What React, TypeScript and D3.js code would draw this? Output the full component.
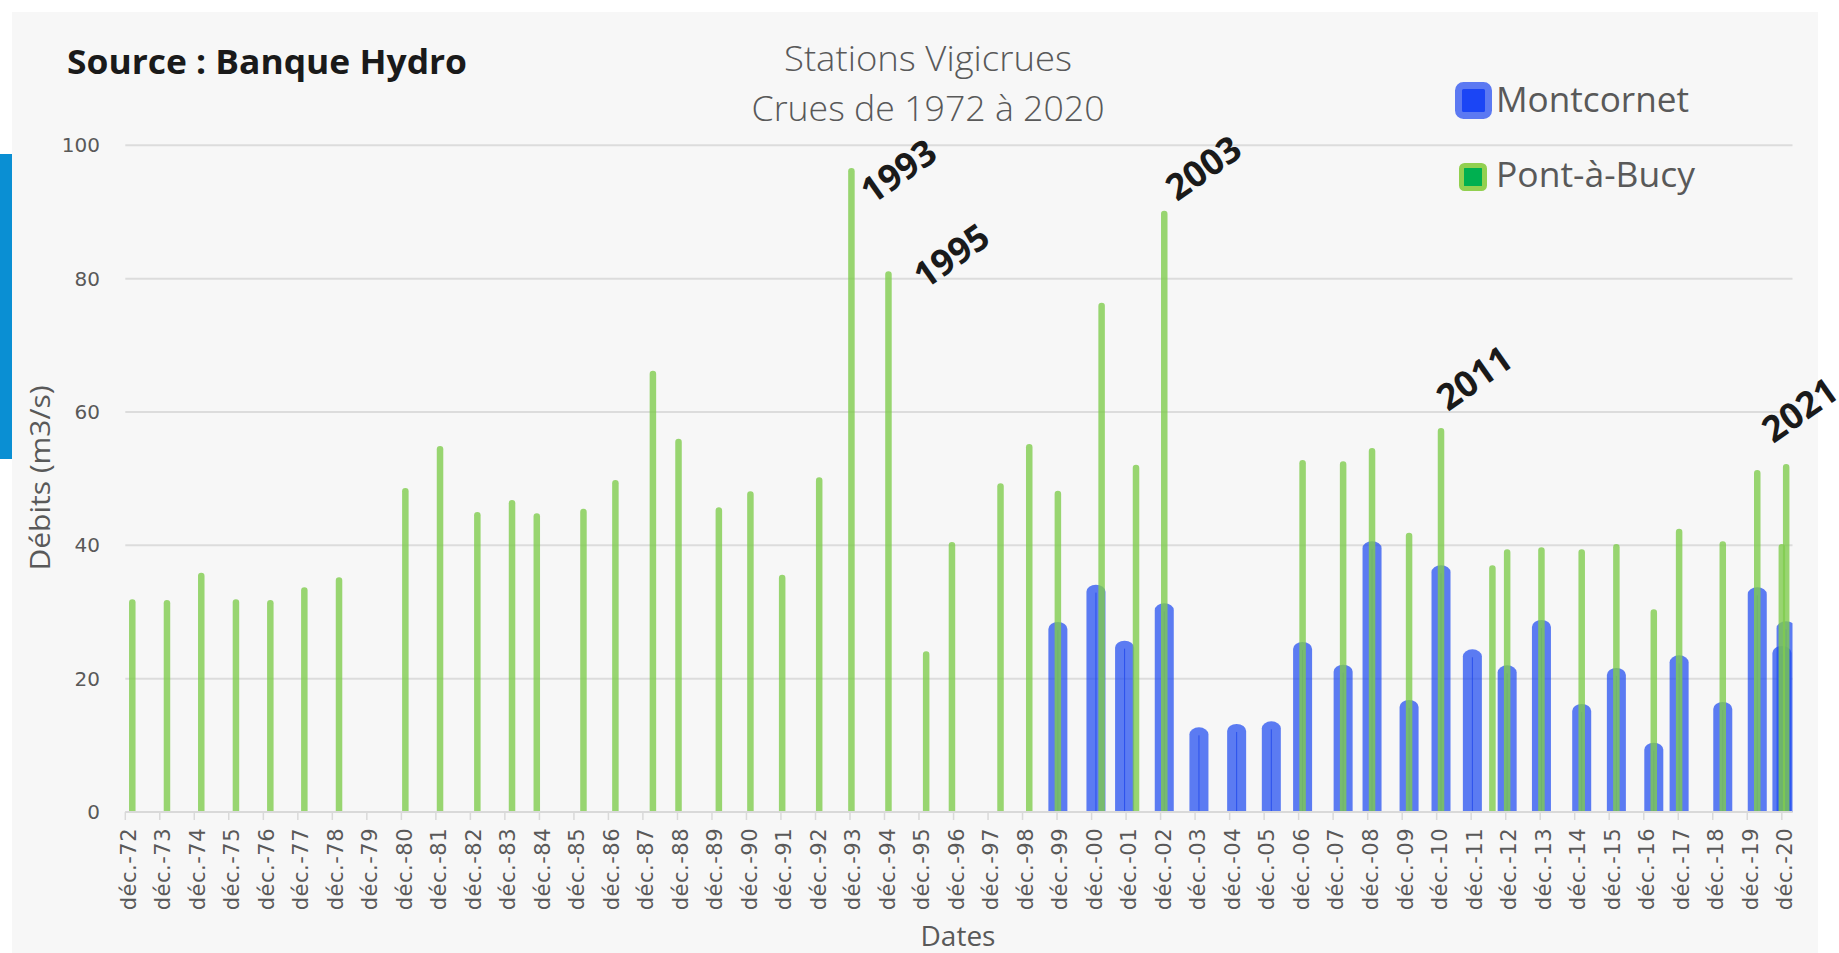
import * as d3 from "d3";

// Montcornet (blue) — date of flood peak, discharge m3/s
const montcornetDates = [
  "1999-12-10", "2001-01-16", "2001-11-15", "2003-01-09", "2004-01-11", "2005-02-13",
  "2006-02-15", "2007-01-12", "2008-03-16", "2009-01-16", "2010-02-12", "2011-01-16",
  "2011-12-14", "2012-12-16", "2013-12-14", "2015-02-13", "2016-02-15", "2017-03-17",
  "2017-12-10", "2019-03-17", "2020-03-16", "2020-12-02", "2021-01-15",
];
const montcornetValues = [
  28.5, 34.1, 25.7, 31.3, 12.7, 13.2,
  13.6, 25.5, 22.1, 40.6, 16.8, 37.0,
  24.4, 22.0, 28.8, 16.2, 21.6, 10.4,
  23.5, 16.5, 33.7, 24.9, 28.6,
];

// Pont-à-Bucy (green)
const pontDates = [
  "1973-02-13", "1974-02-15", "1975-02-13", "1976-02-15", "1977-02-13", "1978-02-08",
  "1979-02-10", "1981-01-12", "1982-01-14", "1983-02-13", "1984-02-15", "1984-11-03",
  "1986-03-12", "1987-02-13", "1988-03-16", "1988-12-12", "1990-02-12", "1991-01-12",
  "1991-12-14", "1993-01-09", "1993-12-16", "1995-01-12", "1996-02-15", "1996-11-14",
  "1998-04-12", "1999-02-10", "1999-12-10", "2001-03-17", "2002-03-16", "2003-01-09",
  "2007-01-12", "2008-03-16", "2009-01-16", "2010-02-12", "2011-01-16", "2012-07-13",
  "2012-12-16", "2013-12-14", "2015-02-13", "2016-02-15", "2017-03-17", "2017-12-10",
  "2019-03-17", "2020-03-16", "2020-12-01", "2021-01-16",
];
const pontValues = [
  31.9, 31.8, 35.9, 31.9, 31.8, 33.7,
  35.2, 48.6, 54.9, 45.0, 46.8, 44.8,
  45.5, 49.8, 66.2, 56.0, 45.7, 48.1,
  35.6, 50.2, 96.6, 81.1, 24.1, 40.5,
  49.3, 55.2, 48.2, 76.4, 52.1, 90.2,
  52.8, 52.6, 54.6, 41.9, 57.6, 37.0,
  39.4, 39.7, 39.4, 40.2, 30.4, 42.5,
  40.6, 51.3, 40.2, 52.2,
];

// annotation labels anchored in data space (baseline start)
const noteLabels = ["1993", "1995", "2003", "2011", "2021"];
const noteDates = ["1994-07-23", "1996-02-02", "2003-05-23", "2011-03-30", "2020-09-02"];
const noteValues = [91.0, 78.3, 91.5, 60.0, 55.2];

const tickYears = d3.range(1972, 2021);
const yTicks = [0, 20, 40, 60, 80, 100];

const parse = d3.utcParse("%Y-%m-%d");

const W = 1839, H = 953;
const plot = { left: 125.3, right: 1792.5, top: 145.3, bottom: 812 };
const grey = "#595959";
const sans = "'Open Sans', 'Noto Sans', sans-serif";

function dome(cx: number, w: number, yTop: number, yBase: number, ry: number) {
  const l = cx - w / 2, r = cx + w / 2;
  return `M${l},${yBase}L${l},${yTop + ry}A${w / 2},${ry} 0 0 1 ${r},${yTop + ry}L${r},${yBase}Z`;
}

export default function App() {
  const x = d3.scaleUtc()
    .domain([new Date(Date.UTC(1972, 11, 1)), new Date(Date.UTC(2021, 2, 24))])
    .range([plot.left, plot.right]);
  const y = d3.scaleLinear().domain([0, 100]).range([plot.bottom, plot.top]);

  const blue = montcornetDates.map((d, i) => ({ date: parse(d)!, value: montcornetValues[i] }));
  const green = pontDates.map((d, i) => ({ date: parse(d)!, value: pontValues[i] }));
  const notes = noteLabels.map((t, i) => ({ text: t, date: parse(noteDates[i])!, value: noteValues[i] }));

  return (
    <svg width={W} height={H} style={{ position: "absolute", left: 0, top: 0, background: "#fff" }}>
      <defs>
        <clipPath id="plotClip">
          <rect x={plot.left - 20} y={0} width={plot.right - plot.left + 20} height={plot.bottom} />
        </clipPath>
      </defs>
      <rect x={12} y={12} width={1806} height={H - 12} fill="#F7F7F7" />
      <rect x={0} y={154} width={12} height={305} fill="#0A8FD3" />

      {/* grid */}
      {yTicks.map(t => (
        <g key={t}>
          <line x1={plot.left} x2={plot.right} y1={y(t)} y2={y(t)} stroke="#DCDCDC" strokeWidth={2} />
          <text x={100} y={y(t)} dy="0.35em" textAnchor="end" fontFamily="'DejaVu Sans', sans-serif"
            fontSize={20} fill={grey}>{t}</text>
        </g>
      ))}

      {/* x ticks */}
      {tickYears.map(yr => {
        const tx = x(new Date(Date.UTC(yr, 11, 1)));
        return (
          <g key={yr}>
            <line x1={tx} x2={tx} y1={plot.bottom} y2={plot.bottom + 8} stroke="#D9D9D9" strokeWidth={1.5} />
            <text transform={`translate(${tx + 3},${plot.bottom + 16}) rotate(-90)`} dy="0.35em"
              textAnchor="end" fontFamily="'DejaVu Sans', sans-serif" fontSize={21} fill={grey}
              letterSpacing={0.5}>
              {`déc.-${String(yr).slice(2)}`}
            </text>
          </g>
        );
      })}

      <g clipPath="url(#plotClip)">
        {blue.map((d, i) => {
          const cx = x(d.date), yt = y(d.value);
          return (
            <g key={i}>
              <path d={dome(cx, 19, yt, plot.bottom, 7)} fill="rgb(30,75,240)" fillOpacity={0.72} />
              <line x1={cx} x2={cx} y1={yt + 8} y2={plot.bottom} stroke="rgb(30,70,235)" strokeWidth={1} strokeOpacity={0.8} />
            </g>
          );
        })}
        {green.map((d, i) => (
          <path key={i} d={dome(x(d.date), 6.5, y(d.value), plot.bottom, 3.25)}
            fill="rgb(128,204,78)" fillOpacity={0.8} />
        ))}
      </g>

      <line x1={plot.left} x2={plot.right} y1={plot.bottom} y2={plot.bottom} stroke="#D9D9D9" strokeWidth={2} />

      {/* annotations */}
      {notes.map(n => (
        <text key={n.text} transform={`translate(${x(n.date)},${y(n.value)}) rotate(-35)`}
          fontFamily={sans} fontWeight={700} fontSize={36} fill="#1A1A1A">{n.text}</text>
      ))}

      {/* titles */}
      <text x={67} y={74} fontFamily={sans} fontWeight={700} fontSize={34} fill="#1A1A1A"
        textLength={400} lengthAdjust="spacingAndGlyphs">Source : Banque Hydro</text>
      <text x={928} y={71} textAnchor="middle" fontFamily={sans} fontWeight={300} fontSize={34} fill={grey}
        textLength={288} lengthAdjust="spacingAndGlyphs">Stations Vigicrues</text>
      <text x={928} y={121} textAnchor="middle" fontFamily={sans} fontWeight={300} fontSize={34} fill={grey}
        textLength={353} lengthAdjust="spacingAndGlyphs">Crues de 1972 à 2020</text>

      <text transform="translate(40,478) rotate(-90)" dy="0.35em" textAnchor="middle" fontFamily={sans}
        fontSize={28} fill={grey} textLength={185} lengthAdjust="spacingAndGlyphs">Débits (m3/s)</text>
      <text x={958} y={946} textAnchor="middle" fontFamily={sans} fontSize={28} fill={grey}>Dates</text>

      {/* legend */}
      <rect x={1458.5} y={85.5} width={30} height={30} rx={5} fill="#1B45F5" stroke="#5C79F2" strokeWidth={7} />
      <text x={1496} y={112} fontFamily={sans} fontSize={34} fill={grey}
        textLength={193} lengthAdjust="spacingAndGlyphs">Montcornet</text>
      <rect x={1461.5} y={165.5} width={23} height={23} rx={3} fill="#00B050" stroke="#92D050" strokeWidth={5} />
      <text x={1496} y={187} fontFamily={sans} fontSize={34} fill={grey}
        textLength={199} lengthAdjust="spacingAndGlyphs">Pont-à-Bucy</text>
    </svg>
  );
}
